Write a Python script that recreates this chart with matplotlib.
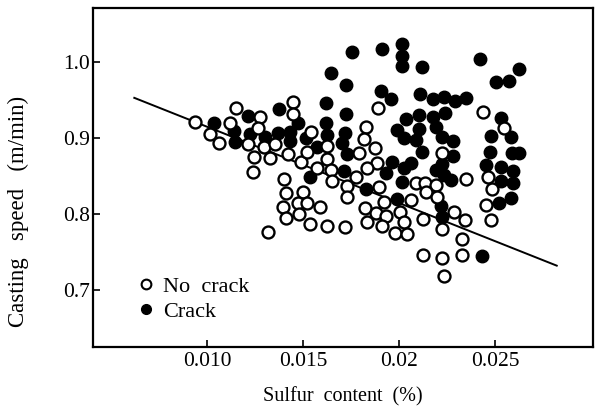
import numpy as np
import matplotlib
matplotlib.use('Agg')
import matplotlib.pyplot as plt
from matplotlib.lines import Line2D

plt.rcParams['font.family'] = ['Liberation Serif', 'DejaVu Serif']

# crack (filled circles): sulfur content (%), casting speed (m/min)
crack_sulfur = [0.01033, 0.01137, 0.01147, 0.01210, 0.01225, 0.01303, 0.01376, 0.01366, 0.01433, 0.01470,
                0.01433, 0.01620, 0.01620, 0.01626, 0.01574, 0.01516, 0.01646, 0.01724, 0.01724, 0.01719,
                0.01704, 0.01730, 0.01714, 0.01537, 0.01756, 0.01912, 0.02016, 0.02016, 0.02016, 0.02120,
                0.01906, 0.01958, 0.02109, 0.02177, 0.02234, 0.02291, 0.02348, 0.02421, 0.02504, 0.02572,
                0.02624, 0.02036, 0.02104, 0.02177, 0.02239, 0.01990, 0.02104, 0.02026, 0.02088, 0.02192,
                0.02224, 0.02281, 0.02530, 0.02478, 0.02582, 0.02473, 0.02588, 0.02624, 0.01964, 0.01932,
                0.02026, 0.02062, 0.02016, 0.01828, 0.01990, 0.02281, 0.02224, 0.02192, 0.02234, 0.02270,
                0.02452, 0.02530, 0.02593, 0.02530, 0.02593, 0.02520, 0.02582, 0.02218, 0.02224, 0.02432,
                0.02120]
crack_speed = [0.920, 0.909, 0.895, 0.929, 0.905, 0.901, 0.938, 0.907, 0.908, 0.920,
               0.896, 0.946, 0.920, 0.904, 0.888, 0.900, 0.986, 0.970, 0.932, 0.907,
               0.893, 0.879, 0.857, 0.849, 1.013, 1.017, 1.024, 1.008, 0.995, 0.993,
               0.962, 0.951, 0.958, 0.951, 0.954, 0.949, 0.953, 1.004, 0.974, 0.975,
               0.991, 0.925, 0.930, 0.928, 0.933, 0.911, 0.912, 0.900, 0.897, 0.914,
               0.901, 0.896, 0.926, 0.903, 0.901, 0.882, 0.880, 0.880, 0.868, 0.854,
               0.861, 0.867, 0.842, 0.833, 0.820, 0.876, 0.866, 0.858, 0.851, 0.845,
               0.864, 0.862, 0.857, 0.843, 0.841, 0.814, 0.821, 0.811, 0.796, 0.745,
               0.882]

# no crack (open circles)
nocrack_sulfur = [0.00934, 0.01012, 0.01059, 0.01152, 0.01121, 0.01277, 0.01262, 0.01210, 0.01293, 0.01355,
                  0.01444, 0.01444, 0.01542, 0.01241, 0.01329, 0.01423, 0.01490, 0.01522, 0.01626, 0.01626,
                  0.01574, 0.01646, 0.01236, 0.01402, 0.01652, 0.01730, 0.01412, 0.01501, 0.01397, 0.01470,
                  0.01522, 0.01589, 0.01412, 0.01480, 0.01537, 0.01626, 0.01719, 0.01314, 0.01730, 0.01891,
                  0.01828, 0.01818, 0.01875, 0.01792, 0.01886, 0.01834, 0.01776, 0.01896, 0.01922, 0.01823,
                  0.01880, 0.01932, 0.02005, 0.02026, 0.01834, 0.01912, 0.01979, 0.02042, 0.02062, 0.02088,
                  0.02437, 0.02546, 0.02224, 0.02348, 0.02463, 0.02484, 0.02452, 0.02478, 0.02135, 0.02192,
                  0.02140, 0.02198, 0.02286, 0.02343, 0.02125, 0.02224, 0.02328, 0.02125, 0.02224, 0.02328,
                  0.02234]
nocrack_speed = [0.921, 0.905, 0.893, 0.939, 0.920, 0.928, 0.913, 0.892, 0.888, 0.892,
                 0.947, 0.932, 0.908, 0.875, 0.874, 0.879, 0.868, 0.882, 0.889, 0.872,
                 0.861, 0.858, 0.855, 0.846, 0.843, 0.837, 0.828, 0.829, 0.809, 0.814,
                 0.814, 0.809, 0.795, 0.800, 0.787, 0.784, 0.783, 0.776, 0.822, 0.939,
                 0.914, 0.899, 0.887, 0.880, 0.867, 0.861, 0.849, 0.836, 0.816, 0.808,
                 0.801, 0.797, 0.803, 0.789, 0.789, 0.784, 0.775, 0.774, 0.818, 0.841,
                 0.934, 0.913, 0.880, 0.846, 0.849, 0.833, 0.812, 0.792, 0.841, 0.838,
                 0.829, 0.822, 0.803, 0.792, 0.793, 0.780, 0.767, 0.746, 0.742, 0.746,
                 0.718]

# boundary line
trend_sulfur = [0.0062, 0.0282]
trend_speed = [0.953, 0.732]

xticks = [0.010, 0.015, 0.020, 0.025]
xticklabels = ['0.010', '0.015', '0.02', '0.025']
yticks = [0.7, 0.8, 0.9, 1.0]
yticklabels = ['0.7', '0.8', '0.9', '1.0']

fig = plt.figure(figsize=(5.95, 4.12), dpi=100)
ax = fig.add_axes([0.156, 0.158, 0.841, 0.822])

ax.plot(trend_sulfur, trend_speed, color='black', lw=1.4, zorder=1)
ax.plot(nocrack_sulfur, nocrack_speed, 'o', ls='none', ms=8.6, mfc='white', mec='black', mew=1.7, zorder=3)
ax.plot(crack_sulfur, crack_speed, 'o', ls='none', ms=9.0, mfc='black', mec='black', mew=1.0, zorder=2)

ax.set_xlim(0.00404, 0.0301)
ax.set_ylim(0.625, 1.071)
ax.set_xticks(xticks)
ax.set_xticklabels(xticklabels)
ax.set_yticks(yticks)
ax.set_yticklabels(yticklabels)
ax.tick_params(direction='in', length=5, width=1.2, labelsize=15.5, pad=4)
ax.tick_params(axis='y', pad=2)

for s in ax.spines.values():
    s.set_linewidth(1.6)

ax.set_xlabel('Sulfur  content  (%)', fontsize=14.5, labelpad=11)
ax.set_ylabel('Casting   speed   (m/min)', fontsize=16.5)
ax.yaxis.set_label_coords(-0.128, 0.40)

handles = [Line2D([], [], ls='none', marker='o', ms=7, mfc='white', mec='black', mew=1.5),
           Line2D([], [], ls='none', marker='o', ms=7, mfc='black', mec='black')]
ax.legend(handles, ['No  crack', 'Crack'], loc='center left', bbox_to_anchor=(0.045, 0.14),
          frameon=False, fontsize=16, handletextpad=0.25, labelspacing=0.2, handlelength=1.0)

fig.savefig('out.png', dpi=100)
